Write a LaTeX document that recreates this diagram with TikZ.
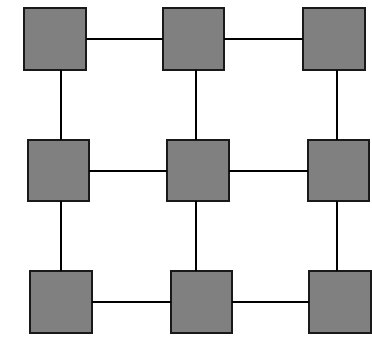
\documentclass[tikz,border=0pt]{standalone}
\begin{document}
\begin{tikzpicture}[x=1bp,y=-1bp,
  box/.style={draw=black!90,fill=black!50,line width=2.4bp,minimum size=61.5bp,inner sep=0pt,outer sep=0pt},
  link/.style={draw=black,line width=2bp}]
\useasboundingbox[fill=white] (0,0) rectangle (372,338);
\coordinate (c1) at (61,0);
\coordinate (c2) at (195.5,0);
\coordinate (c3) at (337,0);
\node[box] (n1) at (55,39) {};
\node[box] (n2) at (193.5,39) {};
\node[box] (n3) at (334,39) {};
\node[box] (n4) at (58.5,170.5) {};
\node[box] (n5) at (198,170.5) {};
\node[box] (n6) at (338.5,170.5) {};
\node[box] (n7) at (61,302) {};
\node[box] (n8) at (201.5,302) {};
\node[box] (n9) at (340,302) {};
\draw[link] (n1) -- (n2);
\draw[link] (n2) -- (n3);
\draw[link] (n4) -- (n5);
\draw[link] (n5) -- (n6);
\draw[link] (n7) -- (n8);
\draw[link] (n8) -- (n9);
\draw[link] (n1.south -| c1) -- (n4.north -| c1);
\draw[link] (n4.south -| c1) -- (n7.north -| c1);
\draw[link] (n2.south -| c2) -- (n5.north -| c2);
\draw[link] (n5.south -| c2) -- (n8.north -| c2);
\draw[link] (n3.south -| c3) -- (n6.north -| c3);
\draw[link] (n6.south -| c3) -- (n9.north -| c3);
\end{tikzpicture}
\end{document}
